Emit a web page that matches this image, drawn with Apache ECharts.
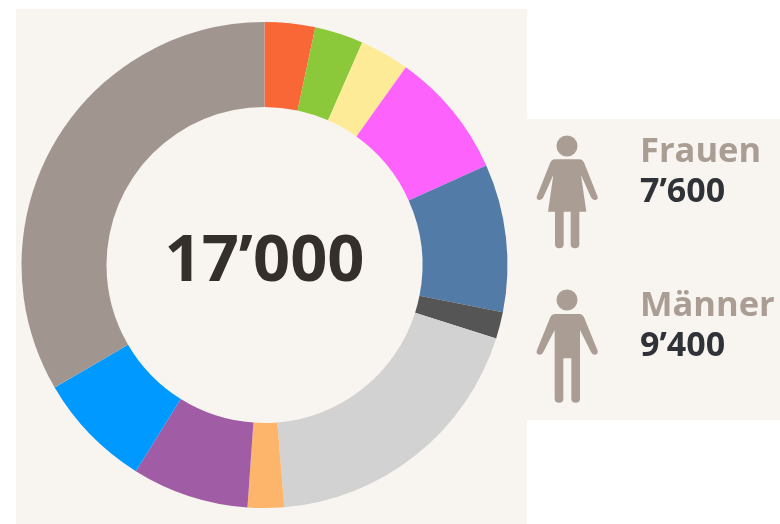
<!DOCTYPE html>
<html>
<head>
<meta charset="utf-8">
<title>17'000</title>
<style>
  html, body { margin: 0; padding: 0; background: #fff; }
  #chart { width: 780px; height: 524px; }
</style>
<script src="https://cdn.jsdelivr.net/npm/echarts@6/dist/echarts.min.js"></script>
</head>
<body>
<div id="chart"></div>
<script>
// clockwise from 12 o'clock
const sliceValues = [570, 550, 560, 1430, 1670, 300, 3200, 410, 1320, 1310, 5680]
const sliceColors = ['#f96736', '#8bc93b', '#fdeb98', '#fd62fd', '#527ba8', '#555555', '#d2d2d2', '#fdb56c', '#a05ca4', '#0099ff', '#a1968f']
const totalLabel = '17’000'
const groupNames = ['Frauen', 'Männer']
const groupValues = ['7’600', '9’400']

const PANEL = '#f8f4ef'
const ICON = '#aa9d94'

const woman = 'M105,148 L178,148 Q188,148 193,160 L232,258 Q236,268 226,270 Q218,272 213,262 L183,195 L199,305 L178,305 L178,403 Q178,415 165,415 Q152,415 152,403 L152,305 L131,305 L131,403 Q131,415 118,415 Q105,415 105,403 L105,305 L84,305 L100,195 L70,262 Q65,272 57,270 Q47,268 51,258 L90,160 Q95,148 105,148 Z'
const man = 'M105,612 L178,612 Q188,612 193,624 L232,720 Q236,732 226,734 Q218,736 213,726 L180,660 L180,866 Q180,878 167,878 Q154,878 154,866 L154,745 L130,745 L130,866 Q130,878 117,878 Q104,878 104,866 L104,660 L70,726 Q65,736 57,734 Q47,732 51,720 L90,624 Q95,612 105,612 Z'

echarts.graphic.registerShape('woman', echarts.graphic.extendPath(woman, {}))
echarts.graphic.registerShape('man', echarts.graphic.extendPath(man, {}))

function icon(shapeName, headY) {
  return [
    { type: shapeName, x: 520, y: 110, scaleX: 1 / 3, scaleY: 1 / 3, style: { fill: ICON } },
    { type: 'circle', shape: { cx: 567, cy: headY, r: 10.5 }, style: { fill: ICON } },
  ]
}

function label(text, x, y, size, color) {
  return {
    type: 'text', x: x, y: y,
    style: { text: text, fill: color, font: 'bold ' + size + 'px "Open Sans"', textAlign: 'left', textVerticalAlign: 'middle' },
  }
}

const chart = echarts.init(document.getElementById('chart'))
chart.setOption({
  animation: false,
  backgroundColor: '#ffffff',
  graphic: [
    { type: 'rect', z: -10, shape: { x: 16, y: 9, width: 511, height: 515 }, style: { fill: PANEL } },
    { type: 'rect', z: -10, shape: { x: 527, y: 119, width: 253, height: 301 }, style: { fill: PANEL } },
    ...icon('woman', 146),
    ...icon('man', 300),
    label(groupNames[0], 640, 152, 34.5, ICON),
    label(groupValues[0], 640, 192, 34, '#2f3338'),
    label(groupNames[1], 640, 306, 34.5, ICON),
    label(groupValues[1], 640, 346, 34, '#2f3338'),
    {
      type: 'text', x: 264.5, y: 262,
      style: { text: totalLabel, fill: '#352f2c', font: 'bold 65px "Open Sans"', textAlign: 'center', textVerticalAlign: 'middle' },
    },
  ],
  series: [{
    type: 'pie',
    center: [264.5, 265],
    radius: [158, 243],
    startAngle: 90,
    clockwise: true,
    silent: true,
    label: { show: false },
    labelLine: { show: false },
    data: sliceValues.map((v, i) => ({ value: v, itemStyle: { color: sliceColors[i] } })),
  }],
})
</script>
</body>
</html>
